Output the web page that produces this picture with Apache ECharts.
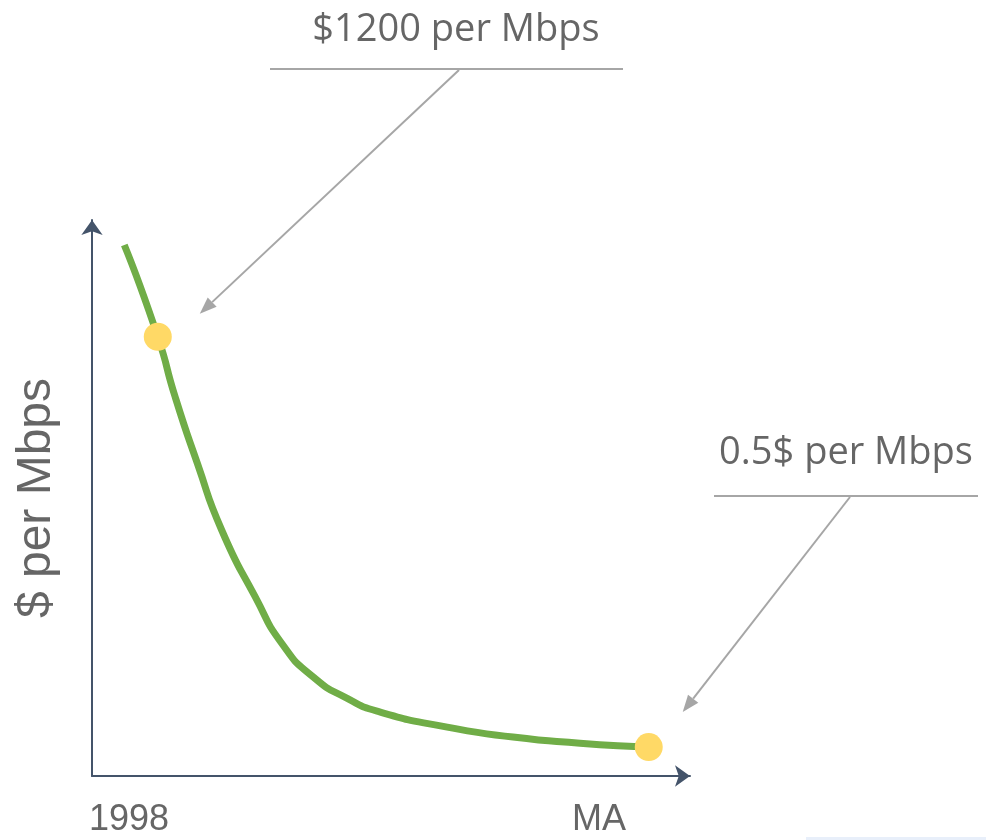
<!DOCTYPE html>
<html><head><meta charset="utf-8">
<script src="https://cdn.jsdelivr.net/npm/echarts@6/dist/echarts.min.js"></script>
<style>html,body{margin:0;padding:0;background:#fff}#c{width:986px;height:840px}</style>
</head><body><div id="c"></div>
<script>
// Relative time (0..100) and relative price (0..100)
const curveX = [5.4, 11.0, 13.9, 17.6, 21.7, 27.3, 31.9, 37.0, 42.6, 48.2, 59.4, 70.4, 81.6, 93.1];
const curveY = [95.5, 79.0, 68.2, 56.3, 44.2, 32.2, 23.6, 17.8, 14.0, 11.5, 8.8, 7.0, 5.9, 5.2];
const pointX = [11.0, 93.1];
const pointY = [79.0, 5.2];
const tickValues = [6.2, 84.8];
const tickLabels = ['1998', 'MA'];
const yAxisName = '$ per Mbps';
const noteTexts = ['$1200 per Mbps', '0.5$ per Mbps'];

const AXIS = '#44546A', GREEN = '#70AD47', YELLOW = '#FFD966', GREY = '#A6A6A6', TEXT = '#666666';

const chart = echarts.init(document.getElementById('c'), null, {renderer: 'canvas'});
chart.setOption({
  animation: false,
  backgroundColor: '#ffffff',
  grid: {left: 92, right: 296, top: 220, bottom: 64, containLabel: false, outerBoundsMode: 'none'},
  xAxis: {
    type: 'value', min: 0, max: 100,
    splitLine: {show: false},
    axisTick: {show: false},
    axisLine: {show: true, symbol: ['none', 'arrow'], symbolSize: [16, 15], lineStyle: {color: AXIS, width: 2}},
    axisLabel: {
      show: true, customValues: tickValues, margin: 26,
      fontFamily: '"Liberation Sans", Arial, sans-serif', fontSize: 36, color: TEXT,
      formatter: function (v) {
        let best = 0, bd = Infinity;
        tickValues.forEach((t, i) => { const d = Math.abs(t - v); if (d < bd) { bd = d; best = i; } });
        return tickLabels[best];
      }
    }
  },
  yAxis: {
    type: 'value', min: 0, max: 100,
    splitLine: {show: false},
    axisTick: {show: false},
    axisLabel: {show: false},
    axisLine: {show: true, symbol: ['none', 'arrow'], symbolSize: [16, 15], lineStyle: {color: AXIS, width: 2}},
    name: yAxisName, nameLocation: 'middle', nameRotate: 90, nameGap: 31,
    nameTextStyle: {fontFamily: '"Liberation Sans", Arial, sans-serif', fontSize: 48, color: TEXT}
  },
  series: [
    {
      type: 'line', smooth: 0.6, showSymbol: false, z: 2,
      data: curveX.map((x, i) => [x, curveY[i]]),
      lineStyle: {color: GREEN, width: 7, cap: 'butt'}
    },
    {
      type: 'scatter', symbolSize: 28, z: 3,
      data: pointX.map((x, i) => [x, pointY[i]]),
      itemStyle: {color: YELLOW, opacity: 1}
    }
  ]
});

function arrow(sx, sy, tx, ty) {
  const dx = tx - sx, dy = ty - sy, L = Math.hypot(dx, dy);
  const ux = dx / L, uy = dy / L, nx = -uy, ny = ux, hl = 17, hw = 6.5;
  const bx = tx - ux * hl, by = ty - uy * hl;
  return [
    {type: 'line', silent: true, shape: {x1: sx, y1: sy, x2: bx, y2: by}, style: {stroke: GREY, lineWidth: 2}},
    {type: 'polygon', silent: true, shape: {points: [[tx, ty], [bx + nx * hw, by + ny * hw], [bx - nx * hw, by - ny * hw]]}, style: {fill: GREY}}
  ];
}

const p1 = chart.convertToPixel({gridIndex: 0}, [pointX[0], pointY[0]]);
const p2 = chart.convertToPixel({gridIndex: 0}, [pointX[1], pointY[1]]);
const noteFont = '38px "Open Sans", sans-serif';
const elements = [
  {type: 'text', silent: true, style: {text: noteTexts[0], x: 456, y: 30, font: noteFont, fill: TEXT, textAlign: 'center', textVerticalAlign: 'middle', align: 'center', verticalAlign: 'middle'}},
  {type: 'line', silent: true, shape: {x1: 270, y1: 69, x2: 623, y2: 69}, style: {stroke: GREY, lineWidth: 2}},
  ...arrow(459, 70, p1[0] + 42, p1[1] - 23),
  {type: 'text', silent: true, style: {text: noteTexts[1], x: 846, y: 453, font: noteFont, fill: TEXT, textAlign: 'center', textVerticalAlign: 'middle', align: 'center', verticalAlign: 'middle'}},
  {type: 'line', silent: true, shape: {x1: 714, y1: 496, x2: 978, y2: 496}, style: {stroke: GREY, lineWidth: 2}},
  ...arrow(850, 497, p2[0] + 34, p2[1] - 35),
  {type: 'rect', silent: true, shape: {x: 806, y: 837, width: 180, height: 3}, style: {fill: '#E8EFFA'}}
];
chart.setOption({graphic: {elements: elements}});
</script>
</body></html>
